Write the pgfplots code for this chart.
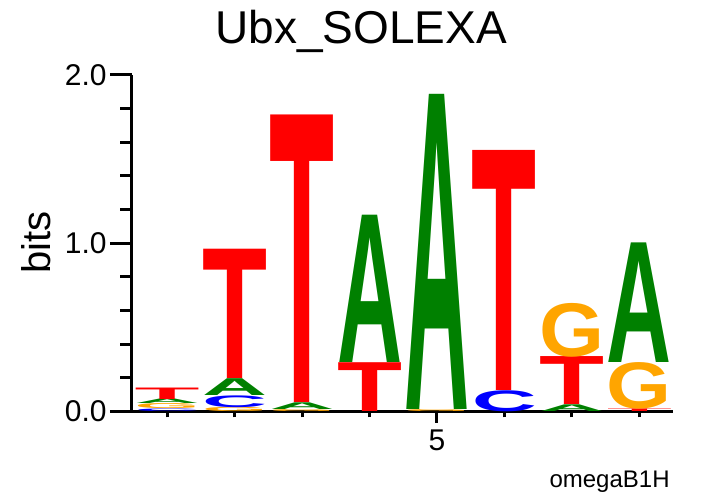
\documentclass[border=0pt]{standalone}
\usepackage{pgfplots}
\pgfplotsset{compat=1.18}
\usepackage{fontspec}
\setmainfont{Liberation Sans}
\newfontfamily\logofont{Liberation Sans}
\usepackage{graphicx}
\definecolor{lgA}{HTML}{008000}
\definecolor{lgC}{HTML}{0000FF}
\definecolor{lgG}{HTML}{FFA500}
\definecolor{lgT}{HTML}{FF0000}
\newdimen\bitunit \bitunit=84.125pt
\pgfplotsset{common/.style={scale only axis, width=270.75pt, height=168.25pt,
  xmin=0.47, xmax=8.5, ymin=0, ymax=2, at={(0pt,0pt)}, anchor=south west, clip=false,
  axis line style={-, line width=1.5pt, black}, tick style={line width=1.5pt, black},
  tick align=outside, tick label style={font=\fontsize{15}{18}\selectfont},
  /pgf/number format/assume math mode=true}}
\begin{document}
\begin{tikzpicture}
\path[use as bounding box] (-65.75pt,-42.25pt) rectangle (294.75pt,205.75pt);
\begin{axis}[common, axis y line*=left, axis x line=none,
  ytick={0,1,2}, yticklabels={0.0,1.0,2.0},
  minor ytick={0.2,0.4,0.6,0.8,1.2,1.4,1.6,1.8},
  major tick length=10.75pt, minor tick length=5.5pt,
  yticklabel style={inner sep=1.5pt}]
\end{axis}
\begin{axis}[common, axis x line*=bottom, axis y line=none,
  xtick={5}, xticklabels={5}, minor xtick={1,2,3,4,6,7,8},
  major tick length=5.75pt, minor tick length=3pt, ytick=\empty]
\addplot[only marks, mark=none,
  visualization depends on={value \thisrow{h} \as \hh},
  visualization depends on={value \thisrow{l} \as \lett},
  nodes near coords={\resizebox*{32.5pt}{\hh\bitunit}{\logofont\bfseries\textcolor{lg\lett}{\lett}}},
  every node near coord/.append style={anchor=south, inner sep=0pt, outer sep=0pt}]
  table {
x y h l
1 0.000 0.015 C
1 0.015 0.030 G
1 0.045 0.027 A
1 0.072 0.068 T
2 0.000 0.025 G
2 0.025 0.070 C
2 0.095 0.100 A
2 0.195 0.768 T
3 0.000 0.012 G
3 0.012 0.040 A
3 0.052 1.708 T
4 0.000 0.290 T
4 0.290 0.875 A
5 0.000 0.012 G
5 0.012 1.872 A
6 0.000 0.125 C
6 0.125 1.426 T
7 0.000 0.040 A
7 0.040 0.285 T
7 0.325 0.320 G
8 0.000 0.016 T
8 0.016 0.277 G
8 0.293 0.711 A
};
\end{axis}
\node[anchor=base, font=\fontsize{23}{27}\selectfont] at (114.75pt,183.75pt) {Ubx\_SOLEXA};
\node[rotate=90, font=\fontsize{20}{24}\selectfont] at (-47.75pt,84.5pt) {bits};
\node[anchor=base east, font=\fontsize{12}{14}\selectfont, inner sep=0pt] at (269.25pt,-38.25pt) {omegaB1H};
\end{tikzpicture}
\end{document}
